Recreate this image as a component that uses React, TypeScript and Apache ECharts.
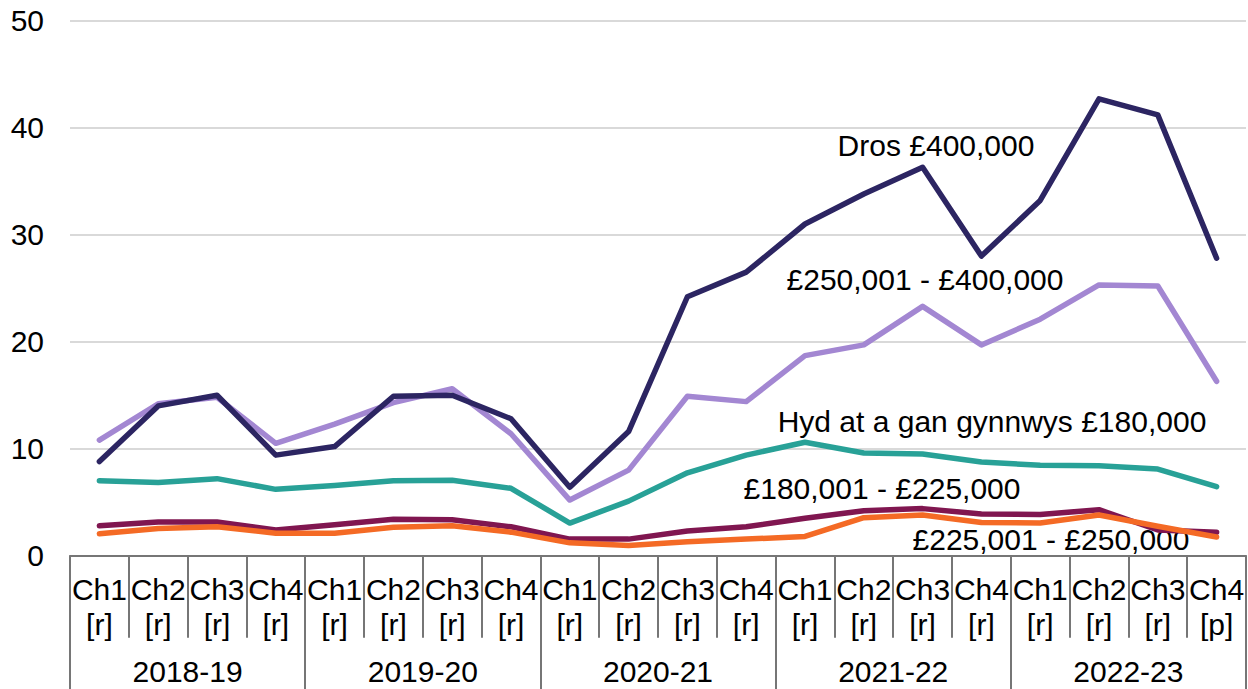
import React, { useEffect, useRef } from "react";
import * as echarts from "echarts";

const quarters = ["Ch1", "Ch2", "Ch3", "Ch4", "Ch1", "Ch2", "Ch3", "Ch4", "Ch1", "Ch2", "Ch3", "Ch4", "Ch1", "Ch2", "Ch3", "Ch4", "Ch1", "Ch2", "Ch3", "Ch4"];
const flags = ["[r]", "[r]", "[r]", "[r]", "[r]", "[r]", "[r]", "[r]", "[r]", "[r]", "[r]", "[r]", "[r]", "[r]", "[r]", "[r]", "[r]", "[r]", "[r]", "[p]"];
const years = ["2018-19", "2019-20", "2020-21", "2021-22", "2022-23"];
const yTicks = { min: 0, max: 50, interval: 10 };

const over400k = [8.8, 14.0, 15.0, 9.4, 10.2, 14.9, 15.0, 12.8, 6.4, 11.6, 24.2, 26.5, 31.0, 33.8, 36.3, 28.0, 33.2, 42.7, 41.2, 27.8];
const from250kTo400k = [10.8, 14.2, 14.8, 10.5, 12.3, 14.3, 15.6, 11.4, 5.2, 8.0, 14.9, 14.4, 18.7, 19.7, 23.3, 19.7, 22.1, 25.3, 25.2, 16.3];
const upTo180k = [7.0, 6.85, 7.2, 6.2, 6.55, 7.0, 7.05, 6.3, 3.05, 5.1, 7.75, 9.4, 10.6, 9.6, 9.5, 8.75, 8.45, 8.4, 8.1, 6.45];
const from180kTo225k = [2.8, 3.15, 3.15, 2.4, 2.9, 3.4, 3.35, 2.7, 1.55, 1.55, 2.3, 2.7, 3.5, 4.2, 4.4, 3.9, 3.85, 4.3, 2.4, 2.2];
const from225kTo250k = [2.05, 2.55, 2.7, 2.1, 2.1, 2.65, 2.8, 2.2, 1.2, 0.95, 1.3, 1.55, 1.8, 3.55, 3.8, 3.1, 3.05, 3.8, 2.75, 1.75];

const seriesNames = [
  "Dros £400,000",
  "£250,001 - £400,000",
  "Hyd at a gan gynnwys £180,000",
  "£180,001 - £225,000",
  "£225,001 - £250,000",
];

const FONT = "'Liberation Sans', Arial, sans-serif";
const FS = 30;

export default function App() {
  const ref = useRef<HTMLDivElement>(null);
  useEffect(() => {
    if (!ref.current) return;
    const chart = echarts.init(ref.current, null, { renderer: "svg" });
    const categories = quarters.map((q, i) => `${q}\n${flags[i]}`);
    const axisGrey = "#767676";
    const line = (name: string, data: number[], color: string, z: number) => ({
      name,
      type: "line",
      data,
      symbol: "none",
      z,
      lineStyle: { color, width: 5.5, cap: "round", join: "round" },
      itemStyle: { color },
    });
    const label = (text: string, x: number, y: number) => ({
      type: "text",
      x,
      y,
      style: {
        text,
        fill: "#000",
        font: `${FS}px ${FONT}`,
        textAlign: "center",
        textVerticalAlign: "middle",
      },
    });
    chart.setOption({
      animation: false,
      textStyle: { fontFamily: FONT },
      grid: { left: 70, right: 2, top: 20.7, bottom: 133.3, containLabel: false },
      xAxis: [
        {
          type: "category",
          data: categories,
          boundaryGap: true,
          position: "bottom",
          axisLine: { show: true, lineStyle: { color: axisGrey, width: 2 } },
          axisTick: { show: true, interval: 0, length: 82, lineStyle: { color: axisGrey, width: 2 } },
          axisLabel: { interval: 0, margin: 16, lineHeight: 35, fontSize: FS, color: "#000", fontFamily: FONT },
          splitLine: { show: false },
        },
        {
          type: "category",
          data: years,
          boundaryGap: true,
          position: "bottom",
          offset: 0,
          axisLine: { show: false },
          axisTick: { show: true, interval: 0, length: 134, lineStyle: { color: axisGrey, width: 2 } },
          axisLabel: { interval: 0, margin: 101, fontSize: FS, color: "#000", fontFamily: FONT },
          splitLine: { show: false },
        },
      ],
      yAxis: {
        type: "value",
        min: yTicks.min,
        max: yTicks.max,
        interval: yTicks.interval,
        axisLine: { show: false },
        axisTick: { show: false },
        axisLabel: { fontSize: FS, color: "#000", margin: 26, fontFamily: FONT },
        splitLine: { lineStyle: { color: "#d9d9d9", width: 2 } },
      },
      series: [
        line(seriesNames[1], from250kTo400k, "#a387d2", 2),
        line(seriesNames[0], over400k, "#2c2562", 3),
        line(seriesNames[2], upTo180k, "#28a197", 2),
        line(seriesNames[3], from180kTo225k, "#801650", 2),
        line(seriesNames[4], from225kTo250k, "#f46a25", 3),
      ],
      graphic: [
        label(seriesNames[0], 936, 145),
        label(seriesNames[1], 925, 279),
        label(seriesNames[2], 992, 421),
        label(seriesNames[3], 882, 488),
        label(seriesNames[4], 1051, 539),
      ],
    });
    return () => chart.dispose();
  }, []);
  return (
    <div
      ref={ref}
      style={{ position: "absolute", left: 0, top: 0, width: 1248, height: 689, background: "#fff" }}
    />
  );
}
